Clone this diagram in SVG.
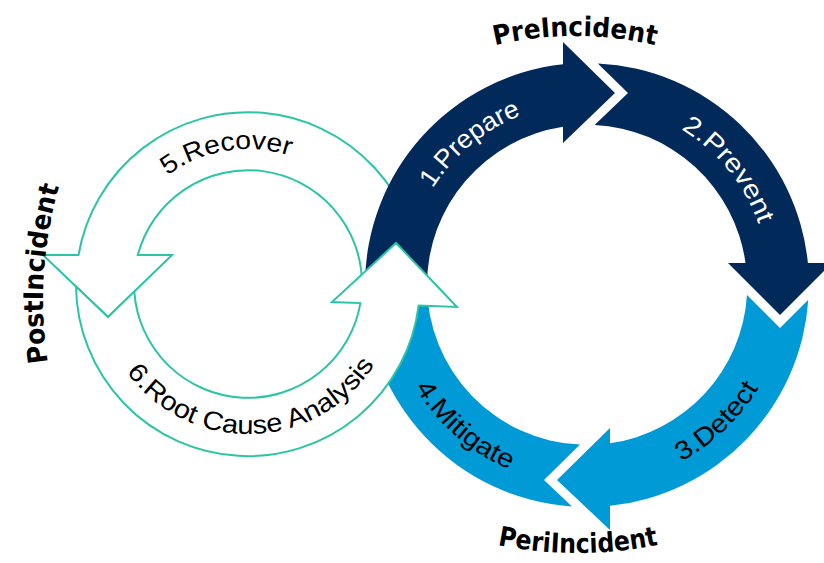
<svg xmlns="http://www.w3.org/2000/svg" width="824" height="563" viewBox="0 0 824 563">
<style>
.navy{fill:#012a5b}
.blue{fill:#009ad6}
.teal{fill:#ffffff;stroke:#2cc4a6;stroke-width:2;stroke-linejoin:miter}
.lbl{font-family:"Liberation Sans",Arial,sans-serif;font-size:26px}
.w{fill:#ffffff}
.k{fill:#000000}
.phase{font-family:"DejaVu Sans","Liberation Sans",Arial,sans-serif;font-size:27px;font-weight:bold;fill:#000000}
</style>
<defs>
<path id="rt" d="M 405,285 A 182 182 0 0 1 769,285"/>
<path id="rb" d="M 387,285 A 200 200 0 0 0 787,285"/>
<path id="lt" d="M 113,284 A 135 135 0 0 1 383,284"/>
<path id="lb" d="M 98,284 A 150 150 0 0 0 398,284"/>
<path id="pre" d="M 400,82.9 A 350 350 0 0 1 750,82.9"/>
<path id="peri" d="M 378,499.4 A 400 400 0 0 0 778,499.4"/>
<path id="post" d="M 55.4,400 A 411 411 0 0 1 71.4,150"/>
</defs>
<g id="connectors"></g>
<g id="recover">
<path class="teal" d="M 420,284 A 172 172 0 0 0 78.5,255 L 43,255 L 108,317 L 172,255 L 137.8,255 A 114 114 0 0 1 362,284 Z"/>
<text class="lbl k"><textPath href="#lt" startOffset="190" text-anchor="middle" textLength="129" lengthAdjust="spacingAndGlyphs">5.Recover</textPath></text>
</g>
<g id="mitigate">
<path class="blue" d="M 572,506.5 A 222 222 0 0 1 365,285 L 427,285 A 160 160 0 0 0 580,444.6 L 544,480 Z"/>
<text class="lbl k"><textPath href="#rb" startOffset="171" text-anchor="middle" textLength="127" lengthAdjust="spacingAndGlyphs">4.Mitigate</textPath></text>
</g>
<g id="prepare">
<path class="navy" d="M 365,285 A 222 222 0 0 1 563,64.3 L 563,42 L 615,93 L 563,143 L 563,126.8 A 160 160 0 0 0 427,285 Z"/>
<text class="lbl w"><textPath href="#rt" startOffset="160" text-anchor="middle" textLength="117" lengthAdjust="spacingAndGlyphs">1.Prepare</textPath></text>
</g>
<g id="prevent">
<path class="navy" d="M 597.8,63.4 A 222 222 0 0 1 807.9,263 L 832,263 L 780,315 L 728,263 L 745.5,263 A 160 160 0 0 0 594.6,125 L 628,93 Z"/>
<text class="lbl w"><textPath href="#rt" startOffset="447" text-anchor="middle" textLength="125" lengthAdjust="spacingAndGlyphs">2.Prevent</textPath></text>
</g>
<g id="detect">
<path class="blue" d="M 808.3,299.7 A 222 222 0 0 1 610,505.8 L 610,530 L 557,480 L 610,428 L 610,443.3 A 160 160 0 0 0 747,295 L 780,328 Z"/>
<text class="lbl k"><textPath href="#rb" startOffset="466" text-anchor="middle" textLength="108" lengthAdjust="spacingAndGlyphs">3.Detect</textPath></text>
</g>
<g id="root-cause-analysis">
<path class="teal" d="M 76,286.5 A 172 172 0 0 0 418.65,305.5 L 457,307 L 396,243 L 332,302 L 360.4,303.1 A 114 114 0 0 1 134.3,291.6 L 108,317 Z"/>
<text class="lbl k"><textPath href="#lb" startOffset="240" text-anchor="middle" textLength="292" lengthAdjust="spacingAndGlyphs">6.Root Cause Analysis</textPath></text>
</g>
<g id="preincident">
<text class="phase"><textPath href="#pre" startOffset="50%" text-anchor="middle" textLength="162" lengthAdjust="spacingAndGlyphs">PreIncident</textPath></text>
</g>
<g id="periincident">
<text class="phase"><textPath href="#peri" startOffset="50%" text-anchor="middle" textLength="162" lengthAdjust="spacingAndGlyphs">PeriIncident</textPath></text>
</g>
<g id="postincident">
<text class="phase"><textPath href="#post" startOffset="50%" text-anchor="middle" textLength="178" lengthAdjust="spacingAndGlyphs">PostIncident</textPath></text>
</g>
</svg>
